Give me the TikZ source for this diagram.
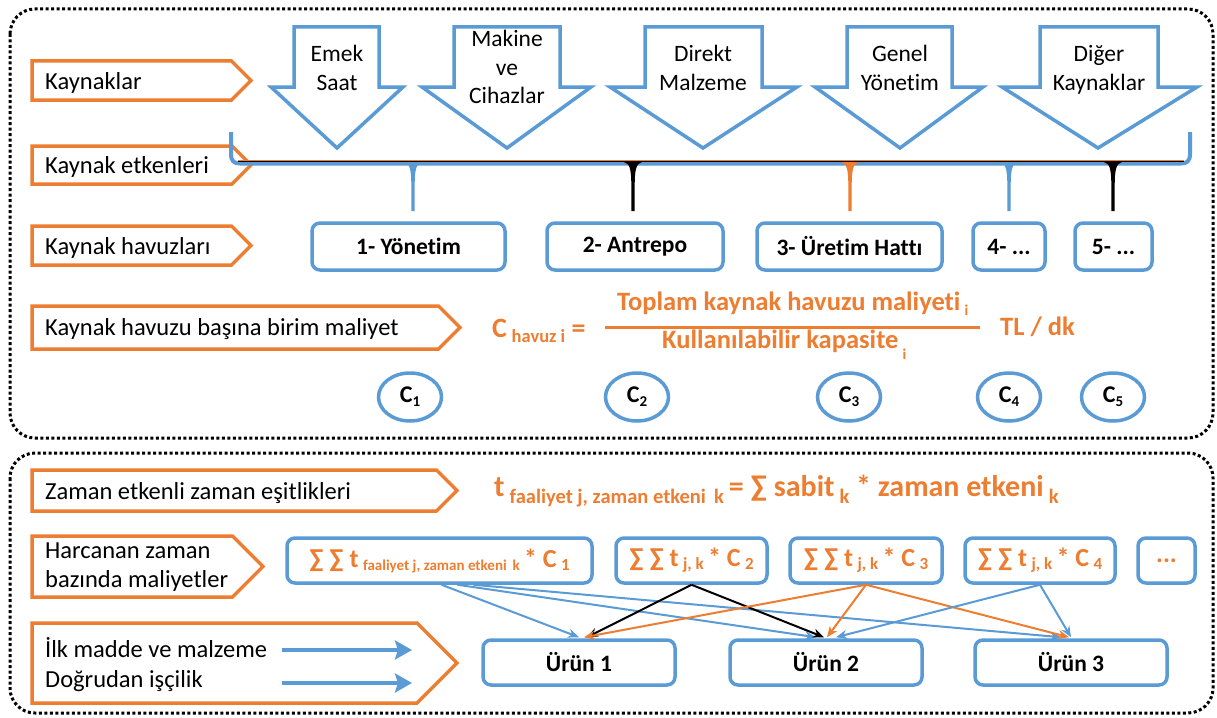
\documentclass[tikz,border=0pt]{standalone}
\usepackage{fontspec}
\setmainfont{Carlito}[Ligatures={NoCommon}]
\usetikzlibrary{arrows.meta,shapes.geometric,calc}
\definecolor{myblue}{HTML}{5B9BD5}
\definecolor{myorange}{HTML}{ED7D31}
\newcommand{\myfs}[1]{\fontsize{#1}{#1}\selectfont}
\newcommand{\mysub}[3]{\raisebox{-#1pt}{\myfs{#2}#3}}
\newcommand{\myspike}[2]{\fill[#1] (#2-9,162) .. controls (#2-3,163.5) and (#2-1.7,170) .. (#2-1.7,186) -- (#2-1.7,211) -- (#2+1.7,211) -- (#2+1.7,186) .. controls (#2+1.7,170) and (#2+3,163.5) .. (#2+9,162) -- cycle;}
\begin{document}
\begin{tikzpicture}[x=1pt,y=-1pt,
  lbl/.style={font=\myfs{24.5}, anchor=base west, inner sep=0},
  ctr/.style={font=\myfs{23.5}, anchor=base, inner sep=0},
  obox/.style={draw=myorange, line width=3.5pt, line join=miter},
  barrow/.style={draw=myblue, line width=3.5pt, fill=white, line join=miter},
  pool/.style={draw=myblue, line width=3.5pt, rounded corners=8pt, font=\bfseries\myfs{23.5}, inner sep=0, fill=white, minimum height=47pt},
  cnode/.style={ellipse, draw=myblue, line width=3.5pt, minimum width=63pt, minimum height=48pt, inner sep=0, font=\bfseries\myfs{24}},
  sbox/.style={draw=myblue, line width=3.5pt, rounded corners=8pt, inner sep=0, text=myorange, font=\bfseries\myfs{26}, minimum height=45pt},
  prod/.style={draw=myblue, line width=3.5pt, rounded corners=8pt, inner sep=0, font=\bfseries\myfs{23.5}, minimum height=45pt, minimum width=192pt},
  border/.style={line width=3pt, dash pattern=on 3pt off 2.5pt, rounded corners=25pt},
  conn/.style={line width=2pt, -{Stealth[length=11pt,width=9pt]}},
  bigarr/.style={draw=myblue, line width=3.5pt, -{Stealth[length=17pt,width=19pt,inset=3pt]}},
  oform/.style={text=myorange, font=\bfseries\myfs{26.5}, inner sep=0, anchor=base west},
]
\useasboundingbox (0,0) rectangle (1217,717);
\fill[white] (0,0) rectangle (1217,717);

% dotted frames
\draw[border] (10,9) rectangle (1213,438);
\draw[border] (10,453) rectangle (1213,713);

% orange label boxes
\draw[obox] (32,61) -- (231.5,61) -- (251,80.5) -- (231.5,100) -- (32,100) -- cycle;
\draw[obox] (32,146) -- (232,146) -- (251,165) -- (232,184) -- (32,184) -- cycle;
\draw[obox] (32,226) -- (231.5,226) -- (251,245.5) -- (231.5,265) -- (32,265) -- cycle;
\draw[obox] (32,306) -- (438.5,306) -- (460,327.5) -- (438.5,349) -- (32,349) -- cycle;
\draw[obox] (32,470) -- (436.5,470) -- (457,490.5) -- (436.5,511) -- (32,511) -- cycle;
\draw[obox] (32,536) -- (232.5,536) -- (263,566.5) -- (232.5,597) -- (32,597) -- cycle;
\draw[obox] (32,623) -- (417,623) -- (457,663) -- (417,703) -- (32,703) -- cycle;

\node[lbl] (l1) at (45,89) {Kaynaklar};
\node[lbl] (l2) at (45,173) {Kaynak etkenleri};
\node[lbl] (l3) at (45,254) {Kaynak havuzları};
\node[lbl] (l4) at (45,335) {Kaynak havuzu başına birim maliyet};
\node[lbl] (l5) at (45,499) {Zaman etkenli zaman eşitlikleri};
\node[lbl] (l6a) at (45,558) {Harcanan zaman};
\node[lbl] (l6b) at (45,587) {bazında maliyetler};
\node[lbl] (l7a) at (45,657) {İlk madde ve malzeme};
\node[lbl] (l7b) at (45,687) {Doğrudan işçilik};

\coordinate (a1s) at (282,650); \coordinate (a1e) at (412,650);
\coordinate (a2s) at (282,683); \coordinate (a2e) at (412,683);
\draw[bigarr] (a1s) -- (a1e);
\draw[bigarr] (a2s) -- (a2e);

% hollow down arrows (resources)
\draw[barrow] (294,27) -- (379,27) -- (379,87) -- (403,87) -- (337,148) -- (271,87) -- (294,87) -- cycle;
\draw[barrow] (454,27) -- (560,27) -- (560,87) -- (591,87) -- (507,148) -- (422,87) -- (454,87) -- cycle;
\draw[barrow] (645,27) -- (762,27) -- (762,87) -- (797,87) -- (703,148) -- (610,87) -- (645,87) -- cycle;
\draw[barrow] (847,27) -- (952,27) -- (952,87) -- (983,87) -- (900,148) -- (815,87) -- (847,87) -- cycle;
\draw[barrow] (1040,27) -- (1158,27) -- (1158,87) -- (1197,87) -- (1098,148) -- (1002,87) -- (1040,87) -- cycle;

\node[ctr] (r1a) at (337,62) {Emek};
\node[ctr] (r1b) at (337,90) {Saat};
\node[ctr] (r2a) at (507,47) {Makine};
\node[ctr] (r2b) at (507,75) {ve};
\node[ctr] (r2c) at (507,103) {Cihazlar};
\node[ctr] (r3a) at (703,62) {Direkt};
\node[ctr] (r3b) at (703,90) {Malzeme};
\node[ctr] (r4a) at (900,62) {Genel};
\node[ctr] (r4b) at (900,90) {Yönetim};
\node[ctr] (r5a) at (1099,62) {Diğer};
\node[ctr] (r5b) at (1099,90) {Kaynaklar};

% brace
\draw[black, line width=1.2pt] (231.5,132) -- (231.5,153);
\draw[myblue, line width=4pt] (231,132) -- (231,154) .. controls (231,161) and (234,163.5) .. (240,163.5) -- (1181,163.5) .. controls (1187,163.5) and (1190,161) .. (1190,154) -- (1190,132);
\draw[myorange, line width=0.8pt] (238,160.6) -- (1184,160.6);
\draw[black, line width=1pt] (238,161.4) -- (1184,161.4);
\myspike{myblue}{413}
\myspike{black}{633}
\myspike{myorange}{850}
\myspike{myblue}{1009}
\myspike{black}{1113}

% pools
\node[pool, minimum width=193pt] (h1) at (408.5,246.5) {1- Yönetim};
\node[pool, minimum width=176pt] (h2) at (635,246.5) {2- Antrepo};
\node[pool, minimum width=185pt] (h3) at (849.5,246.5) {3- Üretim Hattı};
\node[pool, minimum width=72pt] (h4) at (1009,246.5) {4- ...};
\node[pool, minimum width=77pt] (h5) at (1113.5,246.5) {5- ...};

% unit cost formula
\node[oform, font=\bfseries\myfs{28}] (chav) at (492,337) {C\,\mysub{5}{18.5}{havuz i} =};
\draw[myorange, line width=3pt] (605,327) -- (980,327);
\node[oform] (num) at (617,310) {Toplam kaynak havuzu maliyeti\,\mysub{5}{15}{i}};
\node[oform] (den) at (662,348) {Kullanılabilir kapasite\,\mysub{11}{15}{i}};
\node[oform] (tl) at (1000,335) {TL / dk};

% C circles
\node[cnode] (c1) at (410,397) {C\mysub{4}{15}{1}};
\node[cnode] (c2) at (637,397) {C\mysub{4}{15}{2}};
\node[cnode] (c3) at (849,397) {C\mysub{4}{15}{3}};
\node[cnode] (c4) at (1009,397) {C\mysub{4}{15}{4}};
\node[cnode] (c5) at (1113,397) {C\mysub{4}{15}{5}};

% time equation
\node[oform, font=\bfseries\myfs{30}] (teq) at (494,496) {t\,\mysub{7}{20.5}{faaliyet j, zaman etkeni\, k}\,= ∑ sabit\,\mysub{7}{20.5}{k} * zaman etkeni\,\mysub{7}{20.5}{k}};

% cost boxes
\node[sbox, minimum width=305pt] (s1) at (439.5,560.5) {∑ ∑ t\,\mysub{3}{15}{faaliyet j, zaman etkeni\, k}\,* C\,\mysub{3}{17}{1}};
\node[sbox, minimum width=151pt] (s2) at (691.5,560.5) {∑ ∑ t\,\mysub{3}{17}{j, k}\,* C\,\mysub{3}{17}{2}};
\node[sbox, minimum width=152pt] (s3) at (866,560.5) {∑ ∑ t\,\mysub{3}{17}{j, k}\,* C\,\mysub{3}{17}{3}};
\node[sbox, minimum width=150pt] (s4) at (1040,560.5) {∑ ∑ t\,\mysub{3}{17}{j, k}\,* C\,\mysub{3}{17}{4}};
\node[sbox, minimum width=57pt] (s5) at (1166.5,560.5) {...};

% products
\node[prod] (p1) at (579,662.5) {Ürün 1};
\node[prod] (p2) at (826,662.5) {Ürün 2};
\node[prod] (p3) at (1071,662.5) {Ürün 3};

% connectors
\draw[conn, myblue] ($(s1.south)+(2,0)$) -- ($(p1.north)+(0,-1)$);
\draw[conn, myblue] ($(s1.south)+(18,0)$) -- ($(p2.north)+(-10,-1)$);
\draw[conn, myblue] ($(s1.south)+(34,0)$) -- ($(p3.north)+(-10,-1)$);
\draw[conn, black] (s2.south) -- ($(p1.north)+(8,-1)$);
\draw[conn, black] (s2.south) -- ($(p2.north)+(-2,-1)$);
\draw[conn, myorange] (s3.south) -- ($(p1.north)+(5,-1)$);
\draw[conn, myorange] (s3.south) -- ($(p2.north)+(1,-1)$);
\draw[conn, myorange] (s3.south) -- ($(p3.north)+(-2,-1)$);
\draw[conn, myblue] (s4.south) -- ($(p2.north)+(10,-1)$);
\draw[conn, myblue] (s4.south) -- ($(p3.north)+(0,-1)$);
\end{tikzpicture}
\end{document}
